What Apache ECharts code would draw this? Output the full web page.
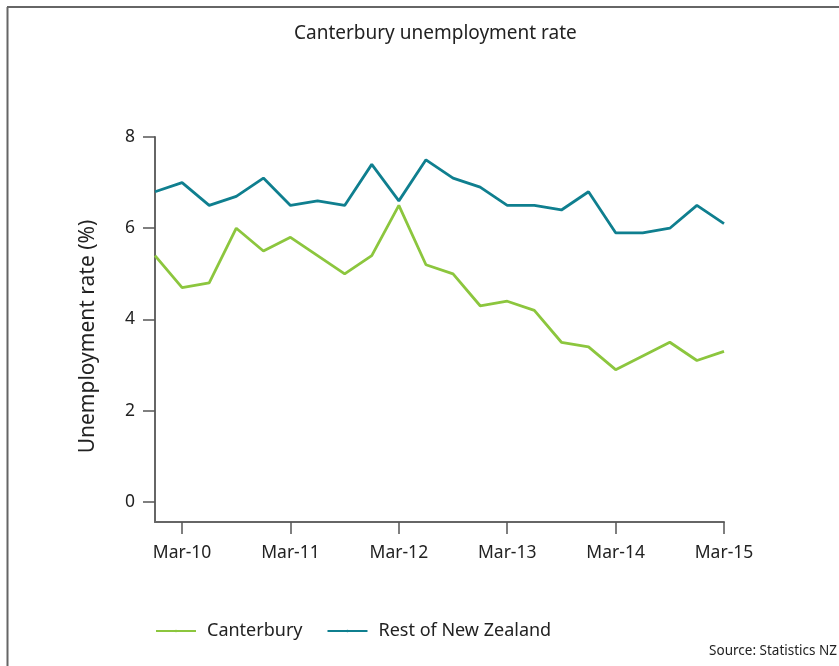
<!DOCTYPE html>
<html>
<head>
<meta charset="utf-8">
<script src="https://cdn.jsdelivr.net/npm/echarts@6/dist/echarts.min.js"></script>
<style>
html,body{margin:0;padding:0;background:#fff;}
#chart{width:839px;height:666px;}
</style>
</head>
<body>
<div id="chart"></div>
<script>
var quarters = ['Dec-09','Mar-10','Jun-10','Sep-10','Dec-10','Mar-11','Jun-11','Sep-11','Dec-11','Mar-12','Jun-12','Sep-12','Dec-12','Mar-13','Jun-13','Sep-13','Dec-13','Mar-14','Jun-14','Sep-14','Dec-14','Mar-15'];
var canterbury = [5.4,4.7,4.8,6.0,5.5,5.8,5.4,5.0,5.4,6.5,5.2,5.0,4.3,4.4,4.2,3.5,3.4,2.9,3.2,3.5,3.1,3.3];
var restOfNZ = [6.8,7.0,6.5,6.7,7.1,6.5,6.6,6.5,7.4,6.6,7.5,7.1,6.9,6.5,6.5,6.4,6.8,5.9,5.9,6.0,6.5,6.1];
var yTicks = [0,2,4,6,8];
var titleText = 'Canterbury unemployment rate';
var yName = 'Unemployment rate (%)';
var sourceText = 'Source: Statistics NZ';

var font = 'Noto Sans';
var isMar = function (idx, val) { return String(val).indexOf('Mar') === 0; };

var chart = echarts.init(document.getElementById('chart'));
chart.setOption({
  animation: false,
  textStyle: { fontFamily: font },
  title: {
    text: titleText, left: 289, top: 19,
    textStyle: { fontFamily: font, fontSize: 19, fontWeight: 'normal', color: '#222' }
  },
  legend: {
    left: 155, top: 622, padding: 0, itemWidth: 40, itemHeight: 3, itemGap: 24,
    textStyle: { fontFamily: font, fontSize: 18, color: '#222', padding: [0,0,0,6] },
    data: ['Canterbury', 'Rest of New Zealand']
  },
  grid: { left: 155, right: 115, top: 137, bottom: 144 },
  xAxis: {
    type: 'category', data: quarters, boundaryGap: false,
    axisLine: { onZero: false, lineStyle: { color: '#666', width: 2 } },
    axisTick: { interval: isMar, length: 12, lineStyle: { color: '#555', width: 1.5 } },
    axisLabel: { interval: isMar, margin: 22, fontSize: 17.5, color: '#222', fontFamily: font }
  },
  yAxis: {
    type: 'value', min: -0.44, max: 8,
    name: yName, nameLocation: 'middle', nameGap: 56,
    nameTextStyle: { fontSize: 21, color: '#222', fontFamily: font, padding: [0,14,0,0] },
    axisLine: { show: true, lineStyle: { color: '#666', width: 2 } },
    axisTick: { show: true, length: 12, customValues: yTicks, lineStyle: { color: '#555', width: 1.5 } },
    axisLabel: { customValues: yTicks, margin: 20, fontSize: 17.5, color: '#222', fontFamily: font },
    splitLine: { show: false }
  },
  graphic: [
    { type: 'line', shape: { x1: 7, y1: 7, x2: 839, y2: 7 }, style: { stroke: '#333', lineWidth: 1.5 } },
    { type: 'line', shape: { x1: 7.5, y1: 7, x2: 7.5, y2: 666 }, style: { stroke: '#666', lineWidth: 2 } },
    { type: 'text', right: 2, top: 644, style: { text: sourceText, fontFamily: font, fontSize: 13.5, fill: '#222' } }
  ],
  series: [
    { name: 'Canterbury', type: 'line', data: canterbury, symbol: 'none',
      lineStyle: { color: '#8cc63e', width: 2.8 }, itemStyle: { color: '#8cc63e' } },
    { name: 'Rest of New Zealand', type: 'line', data: restOfNZ, symbol: 'none',
      lineStyle: { color: '#0f7f8f', width: 2.8 }, itemStyle: { color: '#0f7f8f' } }
  ]
});
</script>
</body>
</html>
